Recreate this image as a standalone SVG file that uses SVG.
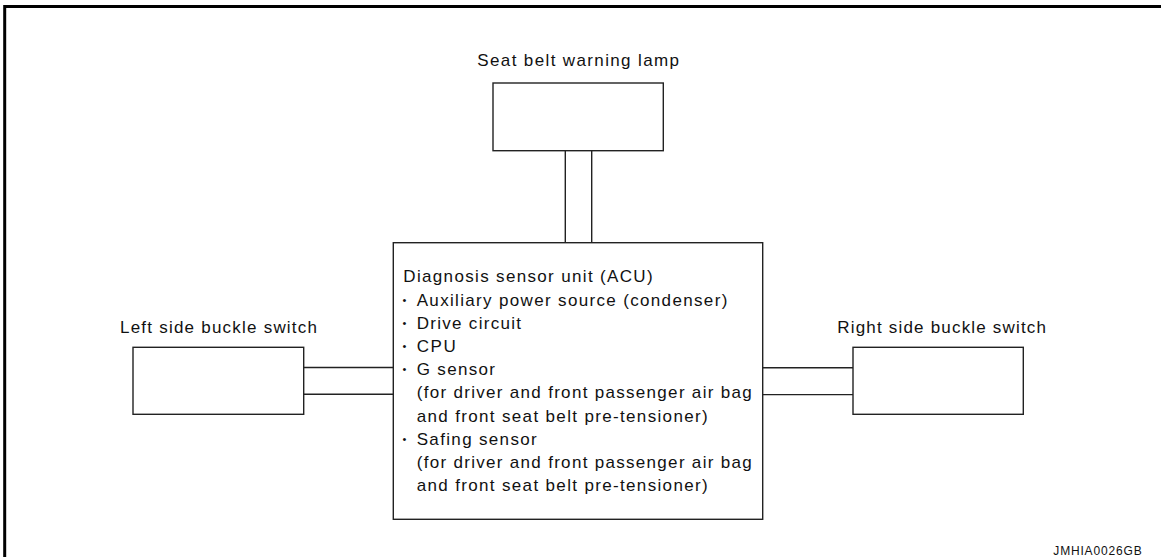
<svg xmlns="http://www.w3.org/2000/svg" width="1161" height="557" viewBox="0 0 1161 557">
<style>
.box{fill:#fff;stroke:#222;stroke-width:1.4}
.ln{stroke:#222;stroke-width:1.4;fill:none}
text{font-family:"Liberation Sans",Arial,sans-serif;font-size:17px;fill:#111}
.small{font-size:12px}
.bul{font-size:11px}
</style>
<rect width="1161" height="557" fill="#fff"/>
<path d="M4.7,557 V6.5 H1161" fill="none" stroke="#000" stroke-width="3"/>
<g id="connectors">
<line class="ln" x1="565.3" y1="150.7" x2="565.3" y2="242.7"/>
<line class="ln" x1="591.7" y1="150.7" x2="591.7" y2="242.7"/>
<line class="ln" x1="303.7" y1="367.5" x2="393.3" y2="367.5"/>
<line class="ln" x1="303.7" y1="394.3" x2="393.3" y2="394.3"/>
<line class="ln" x1="762.7" y1="367.8" x2="853" y2="367.8"/>
<line class="ln" x1="762.7" y1="394.6" x2="853" y2="394.6"/>
</g>
<g id="lamp">
<text x="477.3" y="66" textLength="201.7" lengthAdjust="spacing">Seat belt warning lamp</text>
<rect class="box" x="493" y="83" width="170.3" height="67.7"/>
</g>
<g id="left-switch">
<text x="120" y="332.7" textLength="197" lengthAdjust="spacing">Left side buckle switch</text>
<rect class="box" x="133" y="347.3" width="170.7" height="67"/>
</g>
<g id="right-switch">
<text x="837.3" y="332.7" textLength="208.7" lengthAdjust="spacing">Right side buckle switch</text>
<rect class="box" x="853" y="347.3" width="170.3" height="67"/>
</g>
<g id="acu">
<rect class="box" x="393.3" y="242.7" width="369.4" height="276.6"/>
<text x="403.3" y="282.3" textLength="249.3" lengthAdjust="spacing">Diagnosis sensor unit (ACU)</text>
<text class="bul" x="402.5" y="303.5">•</text>
<text x="416.7" y="305.5" textLength="310.6" lengthAdjust="spacing">Auxiliary power source (condenser)</text>
<text class="bul" x="402.5" y="326.7">•</text>
<text x="416.7" y="328.7" textLength="104.3" lengthAdjust="spacing">Drive circuit</text>
<text class="bul" x="402.5" y="349.9">•</text>
<text x="416.7" y="351.9" textLength="39" lengthAdjust="spacing">CPU</text>
<text class="bul" x="402.5" y="373.1">•</text>
<text x="416.7" y="375.1" textLength="78.3" lengthAdjust="spacing">G sensor</text>
<text x="416.7" y="398.3" textLength="335" lengthAdjust="spacing">(for driver and front passenger air bag</text>
<text x="416.7" y="421.5" textLength="291" lengthAdjust="spacing">and front seat belt pre-tensioner)</text>
<text class="bul" x="402.5" y="442.7">•</text>
<text x="416.7" y="444.7" textLength="120" lengthAdjust="spacing">Safing sensor</text>
<text x="416.7" y="467.9" textLength="335" lengthAdjust="spacing">(for driver and front passenger air bag</text>
<text x="416.7" y="491.1" textLength="291" lengthAdjust="spacing">and front seat belt pre-tensioner)</text>
</g>
<text class="small" x="1053.3" y="555" textLength="88.4" lengthAdjust="spacing">JMHIA0026GB</text>
</svg>
